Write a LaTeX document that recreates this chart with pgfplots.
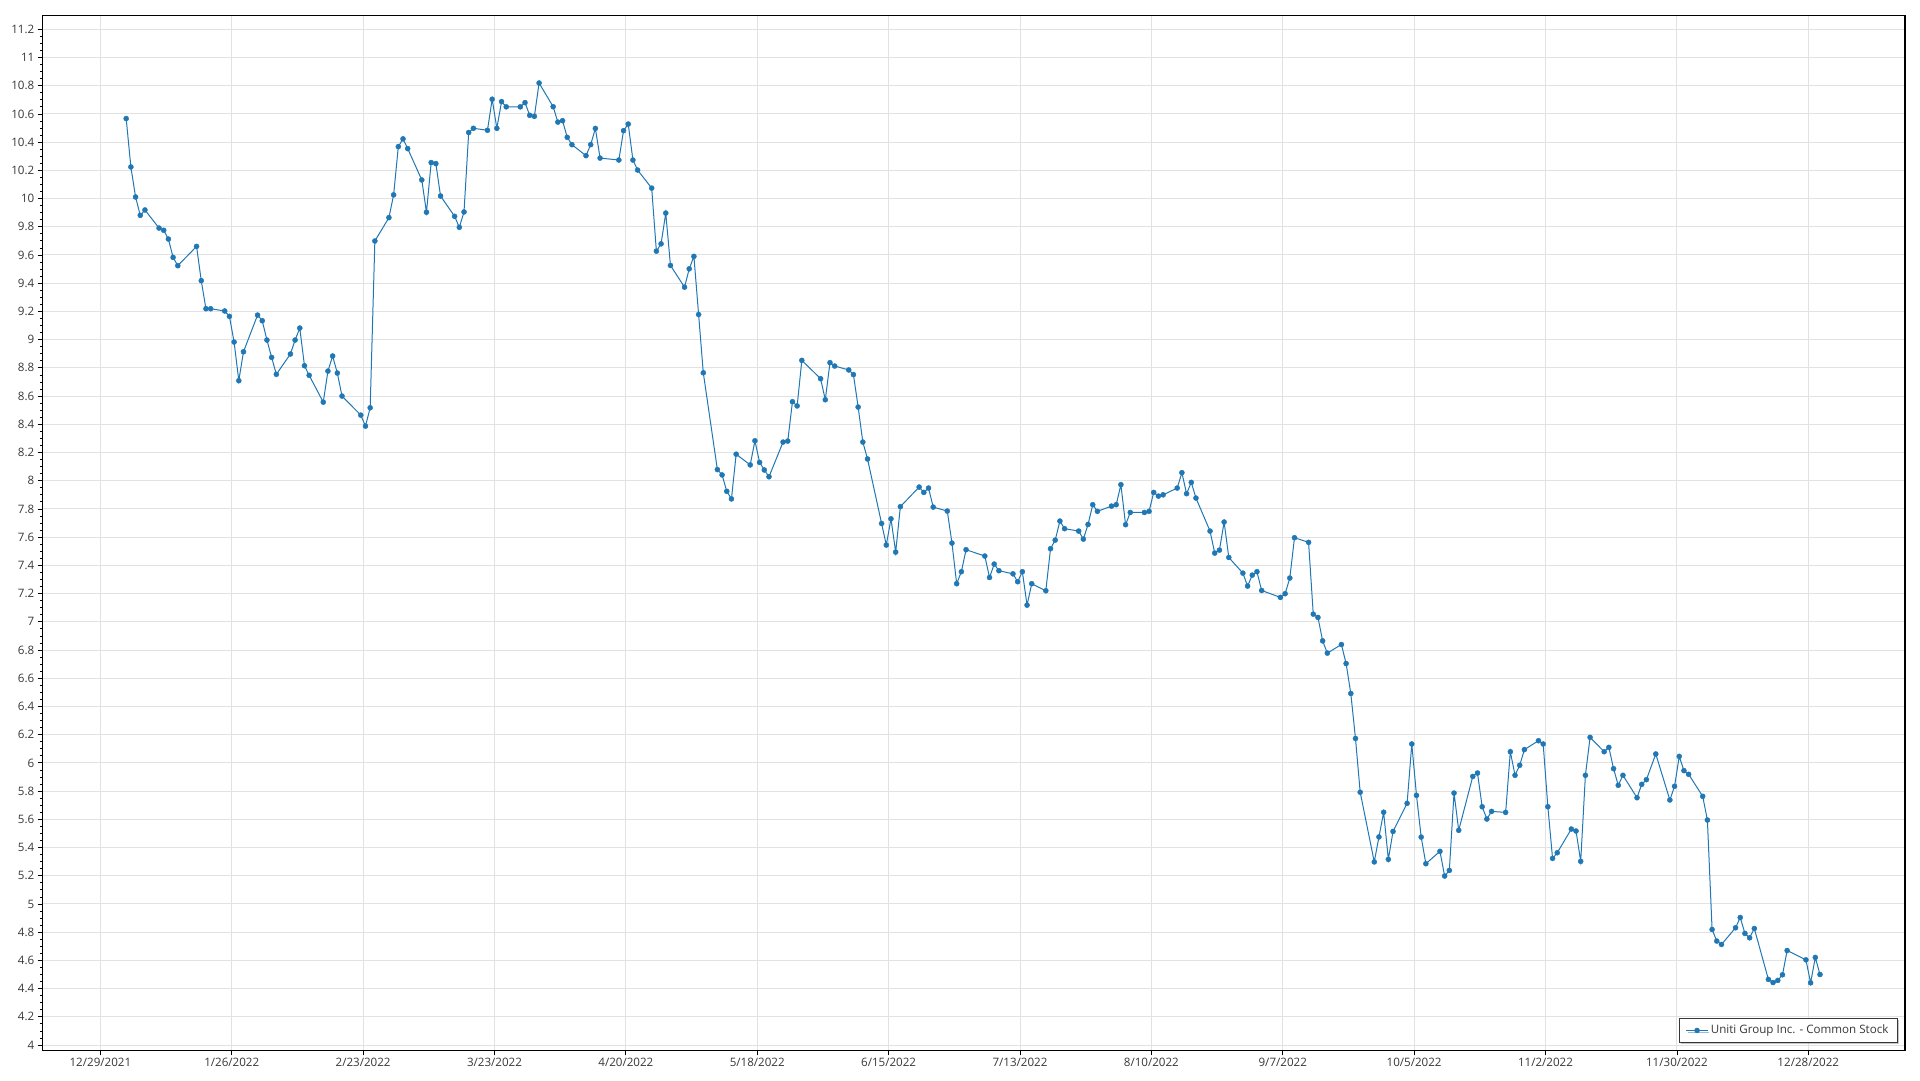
\documentclass[border=0pt]{standalone}
\usepackage{pgfplots}
\pgfplotsset{compat=1.18}
\usepackage{pgfplotstable}
\usepackage{fontspec}
\setmainfont{Open Sans}
\usetikzlibrary{shadows}
\definecolor{series}{RGB}{31,119,180}
\definecolor{gridc}{RGB}{226,226,226}
\definecolor{ticktext}{RGB}{55,55,55}
\pgfplotstableread{
d v
5 10.567
6 10.224
7 10.011
8 9.881
9 9.919
12 9.791
13 9.775
14 9.713
15 9.583
16 9.524
20 9.661
21 9.418
22 9.219
23 9.219
26 9.203
27 9.165
28 8.983
29 8.709
30 8.914
33 9.174
34 9.134
35 8.997
36 8.874
37 8.754
40 8.898
41 8.997
42 9.082
43 8.815
44 8.747
47 8.557
48 8.777
49 8.884
50 8.763
51 8.600
55 8.465
56 8.387
57 8.517
58 9.699
61 9.865
62 10.026
63 10.368
64 10.423
65 10.354
68 10.132
69 9.903
70 10.255
71 10.248
72 10.018
75 9.874
76 9.796
77 9.905
78 10.468
79 10.498
82 10.484
83 10.704
84 10.498
85 10.687
86 10.650
89 10.650
90 10.680
91 10.590
92 10.583
93 10.819
96 10.651
97 10.542
98 10.552
99 10.434
100 10.382
103 10.304
104 10.382
105 10.497
106 10.287
110 10.273
111 10.481
112 10.528
113 10.273
114 10.202
117 10.074
118 9.627
119 9.679
120 9.897
121 9.526
124 9.372
125 9.502
126 9.590
127 9.178
128 8.765
131 8.079
132 8.041
133 7.925
134 7.871
135 8.188
138 8.112
139 8.283
140 8.130
141 8.076
142 8.028
145 8.274
146 8.281
147 8.560
148 8.530
149 8.853
153 8.723
154 8.574
155 8.837
156 8.813
159 8.785
160 8.752
161 8.522
162 8.274
163 8.154
166 7.697
167 7.544
168 7.730
169 7.494
170 7.816
174 7.955
175 7.917
176 7.948
177 7.813
180 7.785
181 7.558
182 7.270
183 7.355
184 7.511
188 7.466
189 7.314
190 7.409
191 7.362
194 7.340
195 7.284
196 7.355
197 7.118
198 7.270
201 7.220
202 7.518
203 7.579
204 7.714
205 7.660
208 7.643
209 7.586
210 7.690
211 7.830
212 7.783
215 7.820
216 7.830
217 7.972
218 7.688
219 7.775
222 7.775
223 7.783
224 7.917
225 7.891
226 7.900
229 7.948
230 8.057
231 7.908
232 7.988
233 7.877
236 7.643
237 7.487
238 7.508
239 7.707
240 7.456
243 7.345
244 7.253
245 7.331
246 7.355
247 7.222
251 7.173
252 7.199
253 7.310
254 7.596
257 7.563
258 7.054
259 7.031
260 6.865
261 6.778
264 6.839
265 6.704
266 6.492
267 6.173
268 5.792
271 5.298
272 5.475
273 5.650
274 5.316
275 5.514
278 5.713
279 6.134
280 5.770
281 5.474
282 5.285
285 5.373
286 5.198
287 5.238
288 5.786
289 5.522
292 5.904
293 5.928
294 5.689
295 5.602
296 5.656
299 5.649
300 6.079
301 5.912
302 5.983
303 6.094
306 6.157
307 6.134
308 5.689
309 5.323
310 5.363
313 5.531
314 5.517
315 5.302
316 5.912
317 6.181
320 6.079
321 6.110
322 5.959
323 5.841
324 5.912
327 5.753
328 5.848
329 5.881
331 6.063
334 5.737
335 5.834
336 6.046
337 5.945
338 5.919
341 5.763
342 5.595
343 4.819
344 4.737
345 4.713
348 4.831
349 4.904
350 4.791
351 4.760
352 4.826
355 4.465
356 4.443
357 4.458
358 4.498
359 4.670
363 4.604
364 4.441
365 4.621
366 4.500
}\stock

\begin{document}
\begin{tikzpicture}[font=\fontsize{8.7}{10}\selectfont]
\useasboundingbox (-32pt,-22.3pt) rectangle (1408pt,787.8pt);
\begin{axis}[
  at={(0,0)}, anchor=south west, scale only axis,
  width=1396.7pt, height=776pt,
  xmin=-12.3, xmax=384.6, ymin=3.962, ymax=11.296,
  xtick={0,28,56,84,112,140,168,196,224,252,280,308,336,364},
  xticklabels={12/29/2021,1/26/2022,2/23/2022,3/23/2022,4/20/2022,5/18/2022,6/15/2022,7/13/2022,8/10/2022,9/7/2022,10/5/2022,11/2/2022,11/30/2022,12/28/2022},
  ytick={4,4.2,4.4,4.6,4.8,5,5.2,5.4,5.6,5.8,6,6.2,6.4,6.6,6.8,7,7.2,7.4,7.6,7.8,8,8.2,8.4,8.6,8.8,9,9.2,9.4,9.6,9.8,10,10.2,10.4,10.6,10.8,11,11.2},
  yticklabels={4,4.2,4.4,4.6,4.8,5,5.2,5.4,5.6,5.8,6,6.2,6.4,6.6,6.8,7,7.2,7.4,7.6,7.8,8,8.2,8.4,8.6,8.8,9,9.2,9.4,9.6,9.8,10,10.2,10.4,10.6,10.8,11,11.2},
  minor y tick num=3,
  tick pos=left, tick align=outside,
  major tick length=3.75pt, minor tick length=2pt,
  tick style={black, line width=0.6pt},
  grid=major, major grid style={gridc, line width=0.75pt},
  axis line style={black, line width=0.9pt},
  tick label style={ticktext, font=\fontsize{8.7}{10}\selectfont},
  /pgf/number format/assume math mode=true,
  xticklabel style={inner sep=2pt},
  yticklabel style={inner sep=2.3pt},
  legend style={at={(axis description cs:1,0)}, anchor=south east, xshift=-5pt, yshift=5.5pt,
    draw=ticktext, line width=0.75pt, fill=white,
    drop shadow={shadow xshift=1.2pt, shadow yshift=-1.2pt, opacity=0.45},
    font=\fontsize{8.7}{10}\selectfont, text=ticktext, inner xsep=5pt, inner ysep=3pt},
  legend cell align=left,
  legend image code/.code={\draw[mark repeat=2,mark phase=2] plot coordinates {(0cm,0cm)(0.28cm,0cm)(0.56cm,0cm)};},
]
\addplot[series, line width=0.75pt, mark=*, mark size=1.9pt, mark options={fill=series, draw=series, line width=0.3pt}]
  table[x expr=\thisrow{d}+0.5, y=v]{\stock};
\addlegendentry{Uniti Group Inc. - Common Stock}
\end{axis}
\end{tikzpicture}
\end{document}
